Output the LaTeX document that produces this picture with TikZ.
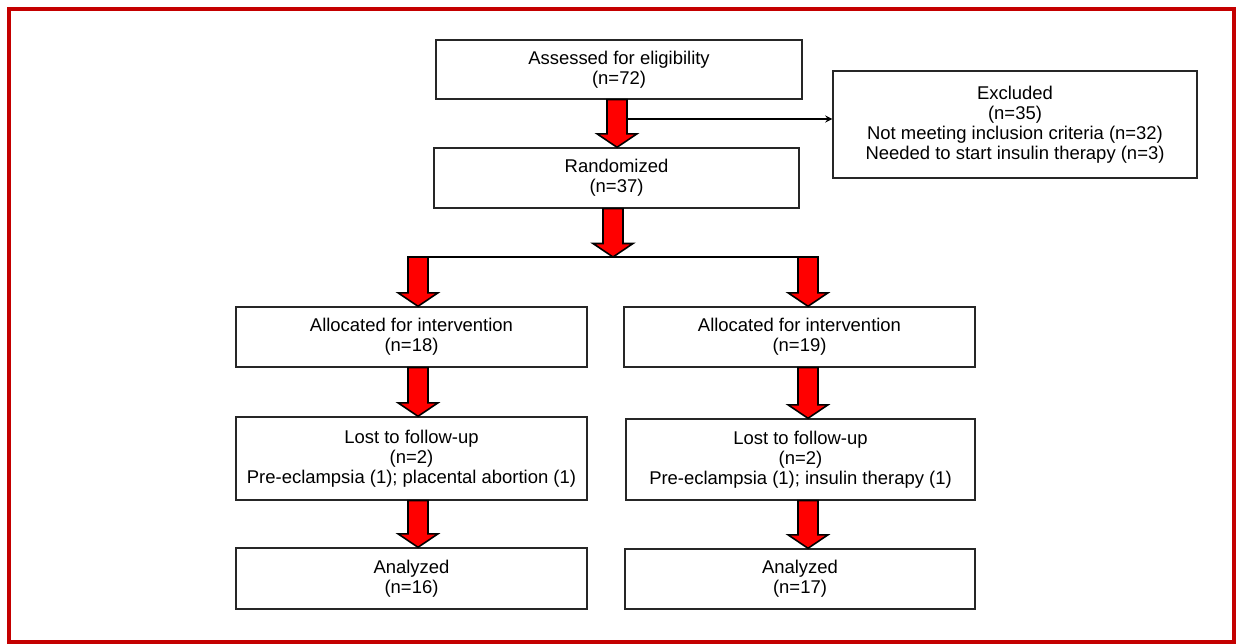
\documentclass[tikz,border=0pt]{standalone}
\usepackage{fontspec}
\setmainfont{Liberation Sans}
\usepackage{tikz}
\usetikzlibrary{calc}
\definecolor{framered}{RGB}{196,0,0}
\tikzset{
  box/.style={draw=black!85,line width=0.8pt,align=center,inner sep=0pt,
    font=\fontsize{10.5}{11.3}\selectfont},
  redarrow/.style={draw=black,line width=0.9pt,fill=red,line join=miter}
}
% block arrow: #1 = top of shaft, #2 = tip
\newcommand{\redarrow}[2]{%
  \draw[redarrow] let \p1=(#1), \p2=(#2) in
    (\x1-0.2cm,\y1) -- (\x1+0.2cm,\y1) -- (\x1+0.2cm,\y2+0.27cm)
    -- (\x1+0.4cm,\y2+0.27cm) -- (\x1,\y2) -- (\x1-0.4cm,\y2+0.27cm)
    -- (\x1-0.2cm,\y2+0.27cm) -- cycle;}

\begin{document}
\begin{tikzpicture}[x=0.02cm,y=-0.02cm]
  \useasboundingbox (0,0) rectangle (1236,644);
  \draw[framered,line width=0.08cm] (9,9) rectangle (1233.5,642);

  % boxes
  \node[box,minimum width=7.32cm,minimum height=1.18cm] (assess) at (619,69.5)
    {Assessed for eligibility\\(n=72)};
  \node[box,minimum width=7.28cm,minimum height=2.14cm] (excl) at (1015,124.5)
    {Excluded\\(n=35)\\Not meeting inclusion criteria (n=32)\\Needed to start insulin therapy (n=3)};
  \node[box,minimum width=7.3cm,minimum height=1.2cm] (rand) at (616.5,178)
    {Randomized\\(n=37)};
  \node[box,minimum width=7.02cm,minimum height=1.2cm] (allocL) at (411.5,337)
    {Allocated for intervention\\(n=18)};
  \node[box,minimum width=7.02cm,minimum height=1.2cm] (allocR) at (799.5,337)
    {Allocated for intervention\\(n=19)};
  \node[box,minimum width=7.02cm,minimum height=1.66cm] (lostL) at (411.5,458.5)
    {Lost to follow-up\\(n=2)\\Pre-eclampsia (1); placental abortion (1)};
  \node[box,minimum width=6.98cm,minimum height=1.62cm] (lostR) at (800.5,459.5)
    {Lost to follow-up\\(n=2)\\Pre-eclampsia (1); insulin therapy (1)};
  \node[box,minimum width=7.02cm,minimum height=1.22cm] (anaL) at (411.5,578.5)
    {Analyzed\\(n=16)};
  \node[box,minimum width=7cm,minimum height=1.2cm] (anaR) at (800,579)
    {Analyzed\\(n=17)};

  % exclusion branch
  \coordinate (branch) at (627,119);
  \draw[-stealth,line width=0.8pt] (branch) -- (branch -| excl.west);

  % split line
  \coordinate (split) at (613,257);
  \coordinate (splitL) at (408,257);
  \coordinate (splitR) at (818,257);
  \draw[line width=0.9pt] (splitL) -- (splitR);

  % red arrows
  \redarrow{assess.south -| 617,0}{rand.north -| 617,0}
  \redarrow{rand.south -| split}{split}
  \redarrow{418,257}{allocL.north -| 418,0}
  \redarrow{808,257}{allocR.north -| 808,0}
  \redarrow{allocL.south -| 418,0}{lostL.north -| 418,0}
  \redarrow{allocR.south -| 808,0}{lostR.north -| 808,0}
  \redarrow{lostL.south -| 418,0}{anaL.north -| 418,0}
  \redarrow{lostR.south -| 808,0}{anaR.north -| 808,0}
\end{tikzpicture}
\end{document}
